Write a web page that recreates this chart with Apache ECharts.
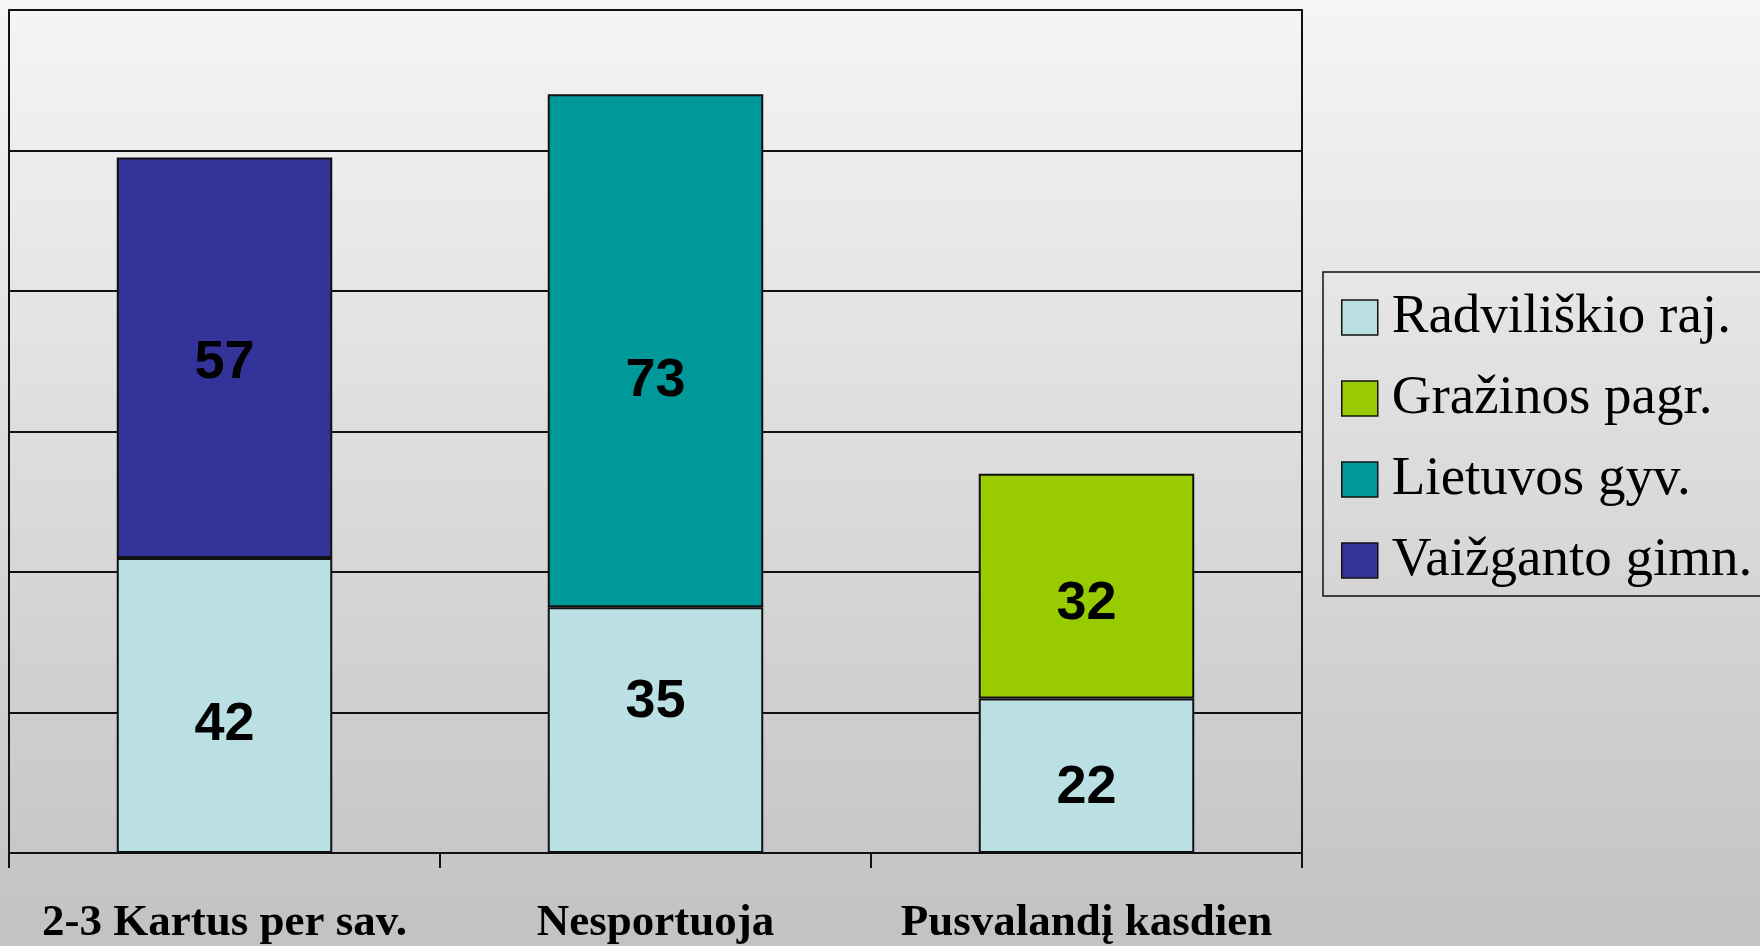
<!DOCTYPE html>
<html>
<head>
<meta charset="utf-8">
<script src="https://cdn.jsdelivr.net/npm/echarts@6/dist/echarts.min.js"></script>
<style>
html,body{margin:0;padding:0;}
#c{width:1760px;height:946px;}
</style>
</head>
<body>
<div id="c"></div>
<script>
const categories = ['2-3 Kartus per sav.', 'Nesportuoja', 'Pusvalandį kasdien'];
const seriesNames = ['Radviliškio raj.', 'Gražinos pagr.', 'Lietuvos gyv.', 'Vaižganto gimn.'];
const radviliskio = [42, 35, 22];
const grazinos = [null, null, 32];
const lietuvos = [null, 73, null];
const vaizganto = [57, null, null];
const yMin = 0, yMax = 120, yStep = 20;

const colors = ['#BAE0E3', '#99CC00', '#009999', '#333399'];
// label vertical nudges (px), purely presentational, per series / category
const labelNudge = [[20, -28, 12], [0, 0, 18], [0, 30, 0], [5, 0, 0]];
const values = [radviliskio, grazinos, lietuvos, vaizganto];

const chart = echarts.init(document.getElementById('c'), null, {renderer: 'canvas'});
chart.setOption({
  animation: false,
  backgroundColor: {
    type: 'linear', x: 0, y: 0, x2: 0, y2: 1,
    colorStops: [{offset: 0, color: '#f5f5f5'}, {offset: 1, color: '#c2c2c2'}]
  },
  grid: {left: 9, top: 10, right: 458, bottom: 91, show: true, borderColor: '#111', borderWidth: 2, backgroundColor: 'transparent'},
  legend: {
    orient: 'vertical',
    left: 1323, top: 272,
    data: seriesNames,
    icon: 'rect',
    itemWidth: 36, itemHeight: 35,
    itemGap: 26,
    padding: [18, 40, 8, 18],
    borderColor: '#111', borderWidth: 1.5,
    itemStyle: {borderColor: '#111', borderWidth: 1.5},
    textStyle: {fontFamily: '"Liberation Serif", "Times New Roman", serif', fontSize: 55, color: '#000', padding: [0, 0, 0, 9]}
  },
  xAxis: {
    type: 'category',
    data: categories,
    axisLine: {lineStyle: {color: '#111', width: 2}},
    axisTick: {show: true, length: 15, lineStyle: {color: '#111', width: 2}},
    axisLabel: {interval: 0, margin: 48, color: '#000', fontFamily: '"Liberation Serif", "Times New Roman", serif', fontWeight: 'bold', fontSize: 45}
  },
  yAxis: {
    type: 'value', min: yMin, max: yMax, interval: yStep,
    axisLine: {show: true, lineStyle: {color: '#111', width: 2}},
    axisTick: {show: false},
    axisLabel: {show: false},
    splitLine: {lineStyle: {color: '#111', width: 2}}
  },
  series: seriesNames.map((name, i) => ({
    name: name,
    type: 'bar',
    stack: 'total',
    barWidth: '50%',
    data: values[i].map((v, j) => ({value: v, label: {offset: [0, labelNudge[i][j]]}})),
    itemStyle: {color: colors[i], borderColor: '#111', borderWidth: 2},
    label: {
      show: true, position: 'inside', color: '#000',
      fontFamily: '"Liberation Sans", Arial, sans-serif', fontWeight: 'bold', fontSize: 54
    }
  }))
});
</script>
</body>
</html>
